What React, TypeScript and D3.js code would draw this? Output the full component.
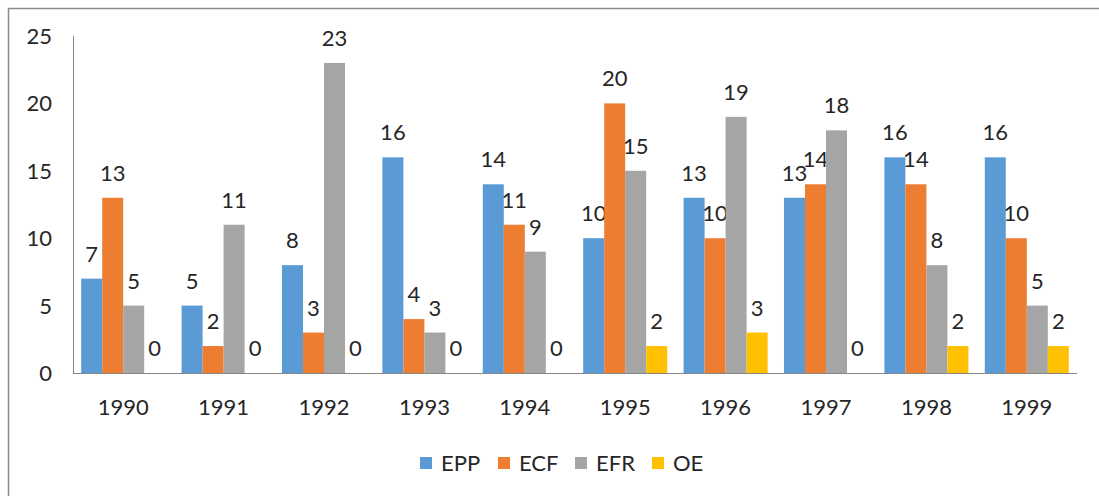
import React from "react";
import * as d3 from "d3";

const years = ["1990", "1991", "1992", "1993", "1994", "1995", "1996", "1997", "1998", "1999"];
const seriesNames = ["EPP", "ECF", "EFR", "OE"];
const epp = [7, 5, 8, 16, 14, 10, 13, 13, 16, 16];
const ecf = [13, 2, 3, 4, 11, 20, 10, 14, 14, 10];
const efr = [5, 11, 23, 3, 9, 15, 19, 18, 8, 5];
const oe = [0, 0, 0, 0, 0, 2, 3, 0, 2, 2];
const yTicks = [0, 5, 10, 15, 20, 25];

const seriesValues = [epp, ecf, efr, oe];
const colors = ["#5B9BD5", "#ED7D31", "#A5A5A5", "#FFC000"];

const FONT = "Lato, 'Open Sans', sans-serif";

export default function App() {
  const W = 1099;
  const H = 496;
  const x0 = d3.scaleBand<string>().domain(years).range([73, 1077]).padding(0);
  const x1 = d3
    .scaleBand<string>()
    .domain(seriesNames)
    .range([0, x0.bandwidth()])
    .paddingInner(0)
    .paddingOuter(0.39);
  const y = d3.scaleLinear().domain([0, 25]).range([373, 36]);

  const legendX = [420, 498, 575, 652];

  return (
    <svg
      width={W}
      height={H}
      style={{ position: "absolute", left: 0, top: 0, background: "#fff" }}
      fontFamily={FONT}
    >
      <rect x={8.5} y={8.5} width={W + 20} height={H + 20} fill="#fff" stroke="#8a8a8a" strokeWidth={1.5} />
      {/* bars */}
      {years.map((yr, i) => (
        <g key={yr} transform={`translate(${x0(yr)},0)`}>
          {seriesNames.map((s, k) => {
            const v = seriesValues[k][i];
            const bx = x1(s)!;
            const bw = x1.bandwidth();
            return (
              <g key={s}>
                <rect x={bx} y={y(v)} width={bw} height={y(0) - y(v)} fill={colors[k]} />
                <text
                  x={bx + bw / 2}
                  y={y(v) - 17}
                  textAnchor="middle"
                  fontSize={22}
                  fill="#262626"
                >
                  {v}
                </text>
              </g>
            );
          })}
        </g>
      ))}
      {/* axes */}
      <line x1={73.5} x2={73.5} y1={y(25)} y2={y(0)} stroke="#868686" strokeWidth={1} />
      <line x1={73} x2={1077} y1={373.5} y2={373.5} stroke="#868686" strokeWidth={1} />
      {yTicks.map((t) => (
        <text key={t} x={52} y={y(t) + 8} textAnchor="end" fontSize={22} fill="#262626">
          {t}
        </text>
      ))}
      {years.map((yr) => (
        <text
          key={yr}
          x={x0(yr)! + x0.bandwidth() / 2}
          y={415}
          textAnchor="middle"
          fontSize={22}
          fill="#262626"
        >
          {yr}
        </text>
      ))}
      {/* legend */}
      {seriesNames.map((s, k) => (
        <g key={s}>
          <rect x={legendX[k]} y={457} width={12} height={12} fill={colors[k]} />
          <text x={legendX[k] + 21} y={471} fontSize={22} fill="#262626">
            {s}
          </text>
        </g>
      ))}
    </svg>
  );
}
